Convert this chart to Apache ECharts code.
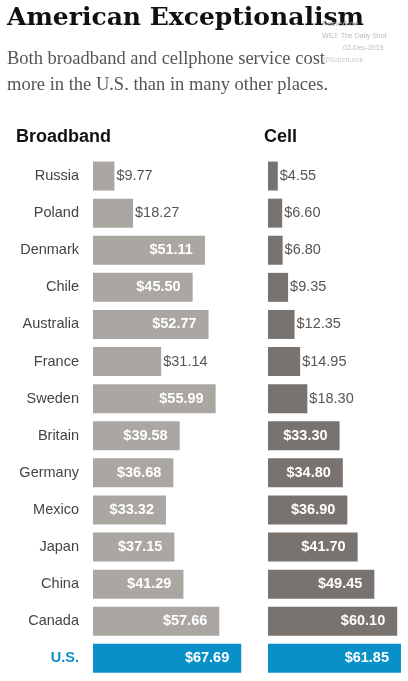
<!DOCTYPE html>
<html><head><meta charset="utf-8">
<script src="https://cdn.jsdelivr.net/npm/echarts@6/dist/echarts.min.js"></script>
<style>
  *{margin:0;padding:0;box-sizing:border-box}
  body{background:#fff;width:408px;height:681px;overflow:hidden}
  #c{width:408px;height:681px}
</style></head>
<body><div id="c"></div>
<script>
// ── data ──
const countries = ['Russia','Poland','Denmark','Chile','Australia','France','Sweden','Britain','Germany','Mexico','Japan','China','Canada','U.S.'];
const broadband = [9.77,18.27,51.11,45.50,52.77,31.14,55.99,39.58,36.68,33.32,37.15,41.29,57.66,67.69];
const cell      = [4.55,6.60,6.80,9.35,12.35,14.95,18.30,33.30,34.80,36.90,41.70,49.45,60.10,61.85];

const BLUE = '#0a90c8';
const INSIDE_MIN = 33;   // labels move inside the bar from here up

const items = (vals, color) => vals.map((v, i) => {
  const us = countries[i] === 'U.S.';
  const inside = v >= INSIDE_MIN;
  return {
    value: v,
    itemStyle: { color: us ? BLUE : color },
    label: inside
      ? { position: 'insideRight', color: '#fff', fontWeight: 'bold', distance: 12 }
      : { position: 'right', color: '#555', fontWeight: 'normal', distance: 2 }
  };
});

const gTop = 157.5, gH = 519.4;
const chart = echarts.init(document.getElementById('c'));
chart.setOption({
  animation: false,
  graphic: [
    { type: 'text', left: 7, top: 6, style: { text: 'American Exceptionalism', font: 'bold 25px "DejaVu Serif", serif', fill: '#111' } },
    { type: 'text', left: 7, top: 46, style: { text: 'Both broadband and cellphone service cost\nmore in the U.S. than in many other places.', font: '18.5px "Liberation Serif", serif', fill: '#555', lineHeight: 26 } },
    { type: 'text', left: 322, top: 20, style: { text: 'Posted on', font: '8px "Liberation Sans"', fill: '#bbb' } },
    { type: 'text', left: 322, top: 33, style: { text: 'WSJ: The Daily Shot', font: '7px "Liberation Sans"', fill: '#bbb' } },
    { type: 'text', left: 343, top: 45, style: { text: '02-Dec-2019', font: '7px "Liberation Sans"', fill: '#bbb' } },
    { type: 'text', left: 322, top: 57, style: { text: '@SoberLook', font: '7px "Liberation Sans"', fill: '#ccc' } },
    { type: 'text', left: 16, top: 128, style: { text: 'Broadband', font: 'bold 18px "Liberation Sans", Arial', fill: '#111' } },
    { type: 'text', left: 264, top: 128, style: { text: 'Cell', font: 'bold 18px "Liberation Sans", Arial', fill: '#111' } }
  ],
  grid: [
    { left: 93, top: gTop, width: 70 * 2.19, height: gH },
    { left: 268, top: gTop, width: 65 * 2.15, height: gH }
  ],
  xAxis: [
    { gridIndex: 0, type: 'value', min: 0, max: 70, show: false },
    { gridIndex: 1, type: 'value', min: 0, max: 65, show: false }
  ],
  yAxis: [
    { gridIndex: 0, type: 'category', data: countries, inverse: true,
      axisLine: { show: false }, axisTick: { show: false },
      axisLabel: { margin: 14, fontSize: 14.5, color: '#444', fontFamily: 'Liberation Sans',
        formatter: v => v === 'U.S.' ? '{us|U.S.}' : v,
        rich: { us: { color: BLUE, fontWeight: 'bold', fontSize: 14.5, fontFamily: 'Liberation Sans' } } } },
    { gridIndex: 1, type: 'category', data: countries, inverse: true, show: false }
  ],
  series: [
    { type: 'bar', xAxisIndex: 0, yAxisIndex: 0, barWidth: 29, data: items(broadband, '#aaa6a2'),
      label: { show: true, fontSize: 14.5, fontFamily: 'Liberation Sans', formatter: p => '$' + p.value.toFixed(2) } },
    { type: 'bar', xAxisIndex: 1, yAxisIndex: 1, barWidth: 29, data: items(cell, '#79736f'),
      label: { show: true, fontSize: 14.5, fontFamily: 'Liberation Sans', formatter: p => '$' + p.value.toFixed(2) } }
  ]
});
</script></body></html>
